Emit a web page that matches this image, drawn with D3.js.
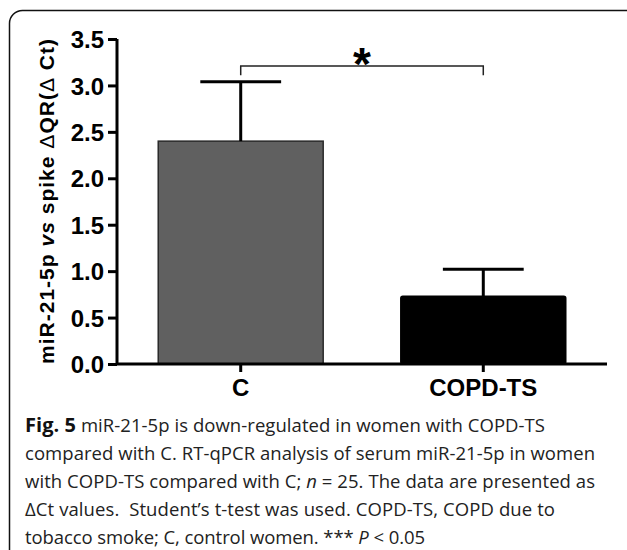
<!DOCTYPE html>
<html><head><meta charset="utf-8">
<script src="https://cdnjs.cloudflare.com/ajax/libs/d3/7.8.5/d3.min.js"></script>
<style>body{margin:0;background:#fff}svg{display:block}</style>
</head><body>
<script>
const categories = ["C", "COPD-TS"];
const means = [2.4, 0.73];
const errors = [0.64, 0.29];
const yTicks = [0, 0.5, 1.0, 1.5, 2.0, 2.5, 3.0, 3.5];
const barColors = ["#606060", "#000000"];
const bracketLevel = 3.21;
const bracketLeg = 3.11;

const W = 627, H = 550;
const svg = d3.select("body").append("svg").attr("width", W).attr("height", H);

// frame
svg.append("rect").attr("x", 9.5).attr("y", 10.5).attr("width", 640).attr("height", 600)
  .attr("rx", 13).attr("fill", "none").attr("stroke", "#111").attr("stroke-width", 1.5);

const y = d3.scaleLinear().domain([0, 3.5]).range([364, 39]);
const x = d3.scaleBand().domain(categories).range([117, 607]).paddingInner(0.32).paddingOuter(0.17);

const g = svg.append("g");

// bars
g.selectAll("rect.bar").data(categories).join("rect").attr("class", "bar")
  .attr("x", d => x(d)).attr("width", x.bandwidth())
  .attr("y", (d, i) => y(means[i])).attr("height", (d, i) => y(0) - y(means[i]))
  .attr("fill", (d, i) => barColors[i])
  .attr("stroke", (d, i) => i === 0 ? "#2a2a2a" : "#000").attr("stroke-width", 1.5)
  .attr("rx", (d, i) => i === 0 ? 0 : 2);

// error bars
const cx = d => x(d) + x.bandwidth() / 2;
const capHalf = x.bandwidth() * 0.245;
categories.forEach((c, i) => {
  g.append("line").attr("x1", cx(c)).attr("x2", cx(c))
    .attr("y1", y(means[i])).attr("y2", y(means[i] + errors[i]))
    .attr("stroke", "#000").attr("stroke-width", 3);
  g.append("line").attr("x1", cx(c) - capHalf).attr("x2", cx(c) + capHalf)
    .attr("y1", y(means[i] + errors[i])).attr("y2", y(means[i] + errors[i]))
    .attr("stroke", "#000").attr("stroke-width", 3);
});

// y axis
const yAxis = d3.axisLeft(y).tickValues(yTicks).tickFormat(d3.format(".1f")).tickSize(9).tickPadding(4);
const ya = svg.append("g").attr("transform", "translate(117,0)").call(yAxis);
ya.select(".domain").attr("stroke", "#000").attr("stroke-width", 3).attr("d", `M0,${y(3.5)}V${y(0)}`);
ya.selectAll(".tick line").attr("stroke", "#000").attr("stroke-width", 3);
ya.selectAll(".tick text").attr("font-family", "Liberation Sans, Arial, sans-serif")
  .attr("font-weight", "bold").attr("font-size", 24).attr("fill", "#000").attr("dy", "0.36em");

// x axis
const xAxis = d3.axisBottom(x).tickSize(8).tickPadding(6);
const xa = svg.append("g").attr("transform", `translate(0,${y(0)})`).call(xAxis);
xa.select(".domain").attr("stroke", "#000").attr("stroke-width", 3).attr("d", "M117,0H607");
xa.selectAll(".tick line").attr("stroke", "#000").attr("stroke-width", 3);
xa.selectAll(".tick text").attr("font-family", "Liberation Sans, Arial, sans-serif")
  .attr("font-weight", "bold").attr("font-size", 24).attr("fill", "#000").attr("dy", "0.75em");

// bracket
const bx1 = cx(categories[0]), bx2 = cx(categories[1]);
svg.append("path").attr("d", `M${bx1},${y(bracketLeg)}V${y(bracketLevel)}H${bx2}V${y(bracketLeg)}`)
  .attr("fill", "none").attr("stroke", "#222").attr("stroke-width", 1.5);
svg.append("text").attr("x", (bx1 + bx2) / 2).attr("y", y(bracketLevel) + 14)
  .attr("text-anchor", "middle").attr("font-family", "Liberation Sans, Arial, sans-serif")
  .attr("font-weight", "bold").attr("font-size", 46).text("*");

// y label
const yl = svg.append("text").attr("transform", `translate(54,${(y(0) + y(3.5)) / 2}) rotate(-90)`)
  .attr("text-anchor", "middle").attr("font-family", "Liberation Sans, Arial, sans-serif")
  .attr("font-weight", "bold").attr("font-size", 21).attr("fill", "#000")
  .attr("textLength", 325).attr("lengthAdjust", "spacing");
yl.append("tspan").text("miR-21-5p ");
yl.append("tspan").attr("font-style", "italic").text("vs");
yl.append("tspan").text(" spike ");
yl.append("tspan").attr("font-weight", "normal").text("Δ");
yl.append("tspan").text("QR(");
yl.append("tspan").attr("font-weight", "normal").text("Δ");
yl.append("tspan").text(" Ct)");

// caption
const capFont = "Open Sans, Noto Sans, sans-serif";
const capLines = [
  [{t: "Fig. 5", b: true}, {t: " miR-21-5p is down-regulated in women with COPD-TS"}],
  [{t: "compared with C. RT-qPCR analysis of serum miR-21-5p in women"}],
  [{t: "with COPD-TS compared with C; "}, {t: "n", i: true}, {t: " = 25. The data are presented as"}],
  [{t: "ΔCt values.\u00a0 Student’s t-test was used. COPD-TS, COPD due to"}],
  [{t: "tobacco smoke; C, control women. *** "}, {t: "P", i: true}, {t: " < 0.05"}]
];
const capLens = [520, 570, 570, 530, 400];
capLines.forEach((line, li) => {
  const t = svg.append("text").attr("x", 25).attr("y", 432 + li * 28)
    .attr("font-family", capFont).attr("font-size", 18.5).attr("fill", "#222")
    .attr("textLength", capLens[li]).attr("lengthAdjust", "spacing");
  line.forEach(s => {
    const sp = t.append("tspan").text(s.t);
    if (s.b) sp.attr("font-weight", "bold").attr("fill", "#111").attr("font-size", 20);
    if (s.i) sp.attr("font-style", "italic");
  });
});
</script>
</body></html>
